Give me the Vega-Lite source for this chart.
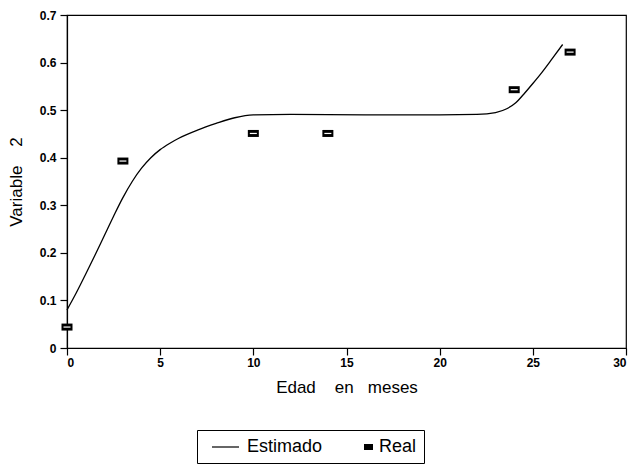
{
  "$schema": "https://vega.github.io/schema/vega-lite/v6.json",
  "width": 559,
  "height": 333,
  "autosize": "none",
  "padding": {"left": 67, "top": 15, "right": 6, "bottom": 120},
  "background": "white",
  "config": {
    "view": {"stroke": "black", "strokeWidth": 1.2},
    "font": "Liberation Sans",
    "axis": {"grid": false, "domainColor": "black", "tickColor": "black", "labelColor": "black", "titleColor": "black", "labelFont": "Liberation Sans", "titleFont": "Liberation Sans", "labelFontSize": 12, "labelFontWeight": "bold", "titleFontSize": 17, "titleFontWeight": "normal", "tickSize": 7, "domainWidth": 1.2, "tickWidth": 1.2}
  },
  "datasets": {
    "curve": [
      {"edad": 0, "valor": 0.08},
      {"edad": 0.5, "valor": 0.116},
      {"edad": 1, "valor": 0.155},
      {"edad": 1.5, "valor": 0.195},
      {"edad": 2, "valor": 0.236},
      {"edad": 2.5, "valor": 0.277},
      {"edad": 3, "valor": 0.316},
      {"edad": 3.5, "valor": 0.35},
      {"edad": 4, "valor": 0.378},
      {"edad": 4.5, "valor": 0.4},
      {"edad": 5, "valor": 0.417},
      {"edad": 5.5, "valor": 0.43},
      {"edad": 6, "valor": 0.441},
      {"edad": 7, "valor": 0.458},
      {"edad": 8, "valor": 0.472},
      {"edad": 9, "valor": 0.484},
      {"edad": 10, "valor": 0.49},
      {"edad": 12, "valor": 0.491},
      {"edad": 16, "valor": 0.49},
      {"edad": 20, "valor": 0.49},
      {"edad": 22, "valor": 0.491},
      {"edad": 23, "valor": 0.495},
      {"edad": 23.6, "valor": 0.503},
      {"edad": 24.1, "valor": 0.516},
      {"edad": 24.5, "valor": 0.533},
      {"edad": 25, "valor": 0.556},
      {"edad": 25.5, "valor": 0.58},
      {"edad": 26, "valor": 0.606},
      {"edad": 26.6, "valor": 0.638}
    ],
    "real": [
      {"edad": 0, "valor": 0.044, "serie": "Real"},
      {"edad": 3, "valor": 0.393, "serie": "Real"},
      {"edad": 10, "valor": 0.451, "serie": "Real"},
      {"edad": 14, "valor": 0.451, "serie": "Real"},
      {"edad": 24, "valor": 0.543, "serie": "Real"},
      {"edad": 27, "valor": 0.622, "serie": "Real"}
    ]
  },
  "layer": [
    {
      "data": {"name": "curve"},
      "mark": {"type": "line", "color": "black", "strokeWidth": 1.3, "interpolate": "monotone"},
      "encoding": {
        "x": {"field": "edad", "type": "quantitative", "scale": {"domain": [0, 30], "nice": false}, "axis": {"values": [0, 5, 10, 15, 20, 25, 30], "title": "Edad\u00a0\u00a0\u00a0\u00a0en\u00a0\u00a0\u00a0meses", "titlePadding": 11, "labelPadding": 2}},
        "y": {"field": "valor", "type": "quantitative", "scale": {"domain": [0, 0.7], "nice": false}, "axis": {"values": [0, 0.1, 0.2, 0.3, 0.4, 0.5, 0.6, 0.7], "labelExpr": "datum.value == 0 ? '0' : format(datum.value, '.1f')", "title": "Variable\u00a0\u00a0\u00a0\u00a02", "titlePadding": 14, "labelPadding": 4}}
      }
    },
    {
      "data": {"name": "real"},
      "mark": {"type": "point", "filled": true, "color": "black", "opacity": 1, "size": 400, "shape": "M-0.55,-0.35H0.55V0.35H-0.55Z"},
      "encoding": {
        "x": {"field": "edad", "type": "quantitative"},
        "y": {"field": "valor", "type": "quantitative"}
      }
    },
    {
      "data": {"name": "real"},
      "mark": {"type": "point", "filled": true, "color": "white", "opacity": 1, "size": 400, "shape": "M-0.35,-0.06H0.35V0.06H-0.35Z"},
      "encoding": {
        "x": {"field": "edad", "type": "quantitative"},
        "y": {"field": "valor", "type": "quantitative"}
      }
    },
    {
      "data": {"name": "real"},
      "mark": {"type": "point", "filled": true, "color": "black", "opacity": 0, "size": 400},
      "encoding": {
        "x": {"field": "edad", "type": "quantitative"},
        "y": {"field": "valor", "type": "quantitative"},
        "shape": {
          "field": "serie",
          "type": "nominal",
          "scale": {"domain": ["Estimado", "Real"], "range": ["M-0.2,-0.06H2.5V0.06H-0.2Z", "M1.8,-0.3H2.7V0.3H1.8Z"]},
          "legend": {
            "title": null,
            "orient": "none",
            "legendX": 130,
            "legendY": 415,
            "direction": "horizontal",
            "strokeColor": "black",
            "padding": 7,
            "labelFont": "Liberation Sans",
            "labelFontSize": 18,
            "labelColor": "black",
            "labelExpr": "datum.label == 'Real' ? 'Real\u2003\u2003' : datum.label",
            "symbolSize": 400,
            "symbolStrokeColor": "black",
            "symbolStrokeWidth": 0,
            "symbolFillColor": "black",
            "symbolOpacity": 1,
            "columnPadding": 13,
            "labelOffset": 23
          }
        }
      }
    }
  ]
}
